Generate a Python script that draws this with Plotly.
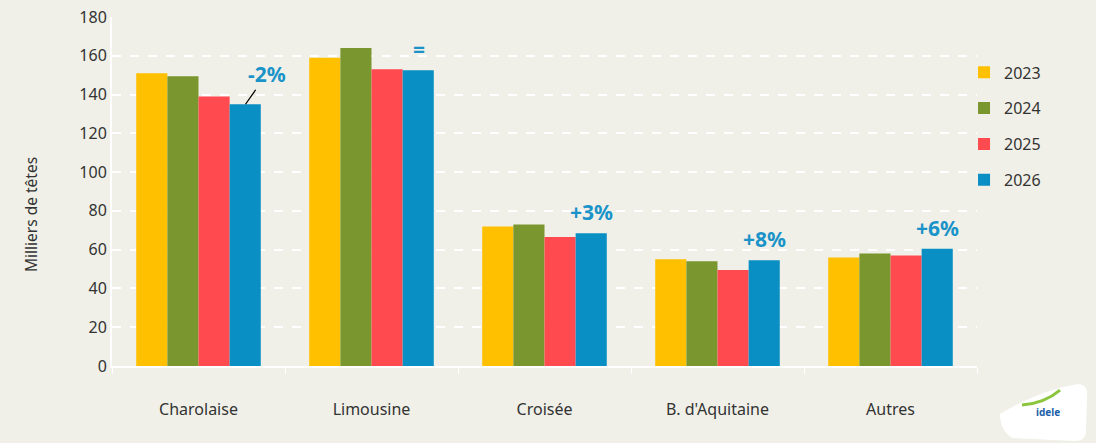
import plotly.graph_objects as go

categories = ["Charolaise", "Limousine", "Croisée", "B. d'Aquitaine", "Autres"]
years = ["2023", "2024", "2025", "2026"]
v2023 = [151, 159, 72, 55, 56]
v2024 = [149.5, 164, 73, 54, 58]
v2025 = [139, 153, 66.5, 49.5, 57]
v2026 = [135, 152.5, 68.5, 54.5, 60.5]
evolution = ["-2%", "=", "+3%", "+8%", "+6%"]

colors = ["#FFC000", "#7A962E", "#FF4B4F", "#0A8FC4"]
bg = "#F0F0E8"
font = "Noto Sans"

fig = go.Figure()
for yr, vals, col in zip(years, [v2023, v2024, v2025, v2026], colors):
    fig.add_trace(go.Bar(
        x=categories, y=vals, name=yr, legendgroup=yr,
        marker=dict(color=col, line=dict(width=0)),
    ))

# labels above 2026 bars
for i, (cat, val, txt) in enumerate(zip(categories, v2026, evolution)):
    if i == 0:
        fig.add_annotation(x=cat, y=val, xshift=47, text="<b>" + txt + "</b>",
                           showarrow=True, arrowhead=0, arrowwidth=1.3, arrowcolor="black",
                           ax=21, ay=-30, font=dict(size=21, color="#1A93C8", family=font))
    else:
        fig.add_annotation(x=cat, y=val, xshift=47, yshift=5, text="<b>" + txt + "</b>",
                           showarrow=False, yanchor="bottom",
                           font=dict(size=21, color="#1A93C8", family=font))

# pixel -> paper helper for the decorations
def px(x, y):
    return "%.4f %.4f" % ((x - 112) / 865, (366 - y) / 349)

# y title placed like the original (a bit below centre)
fig.add_annotation(xref="paper", yref="paper", x=(31 - 112) / 865, y=(366 - 215) / 349,
                   xanchor="center", yanchor="middle",
                   text="Milliers de têtes", textangle=-90, showarrow=False,
                   font=dict(size=15.5, color="#333333", family=font))

# logo badge, bottom right
fig.add_shape(type="path", xref="paper", yref="paper",
              path="M " + px(1000, 414) + " Q " + px(1040, 390) + " " + px(1078, 384)
                   + " Q " + px(1088, 384) + " " + px(1087, 396)
                   + " L " + px(1086, 432) + " Q " + px(1085, 441) + " " + px(1075, 441)
                   + " L " + px(1012, 438) + " Q " + px(1000, 430) + " " + px(1000, 414) + " Z",
              fillcolor="white", line=dict(width=0))
fig.add_shape(type="path", xref="paper", yref="paper",
              path="M " + px(1022, 405) + " Q " + px(1045, 403) + " " + px(1060, 390),
              line=dict(color="#8CC63F", width=3))
fig.add_annotation(xref="paper", yref="paper", x=(1062 - 112) / 865, y=(366 - 421) / 349,
                   text="<b>idele</b>", showarrow=False,
                   font=dict(size=10, color="#1C5FA8", family=font))

fig.update_layout(
    width=1096, height=443,
    paper_bgcolor=bg, plot_bgcolor=bg,
    margin=dict(l=112, r=119, t=17, b=77, autoexpand=False),
    barmode="group", bargap=0.28, bargroupgap=0,
    font=dict(family=font, size=16, color="#333333"),
    legend=dict(x=0.985, xanchor="left", y=0.89, yanchor="top",
                tracegroupgap=12, font=dict(size=16, color="#333333"),
                bgcolor="rgba(0,0,0,0)"),
    xaxis=dict(showgrid=False, showline=True, linecolor="white", linewidth=2,
               ticks="outside", tickson="boundaries", ticklen=6, tickcolor="white",
               ticklabelstandoff=28, tickfont=dict(size=16, color="#333333")),
    yaxis=dict(range=[0, 180], dtick=20, showgrid=True, gridcolor="white",
               griddash="dash", gridwidth=1.5, showline=True, linecolor="white",
               linewidth=2, zeroline=False,
               tickfont=dict(size=16, color="#333333")),
)

fig.write_html("out.html", config={"displayModeBar": False},
               post_script="document.body.style.margin='0';document.body.style.overflow='hidden';")
